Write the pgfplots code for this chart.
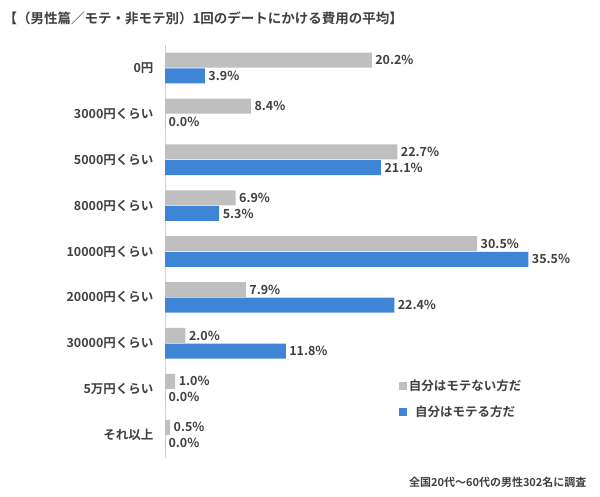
\documentclass[border=0pt]{standalone}
\usepackage{pgfplots}
\pgfplotsset{compat=1.18}
\usepackage{fontspec}
\setmainfont{Noto Sans CJK JP}[BoldFont={Noto Sans CJK JP Bold}]
\definecolor{gbar}{HTML}{BFBFBF}
\definecolor{bbar}{HTML}{3E85D5}
\definecolor{txt}{HTML}{404040}
\begin{document}
\begin{tikzpicture}[x=1pt,y=1pt]
\useasboundingbox (0,0) rectangle (600,496);
\node[anchor=west,font=\bfseries\fontsize{13.5}{15}\selectfont,text=txt] at (0,478) {【（男性篇／モテ・非モテ別）1回のデートにかける費用の平均】};
\begin{axis}[at={(165pt,38pt)},anchor=south west,scale only axis,width=435pt,height=413pt,
 xmin=0,xmax=42.5,ymin=-0.5,ymax=8.5,y dir=reverse,
 axis x line=none, axis y line*=left, y axis line style={gbar!70},
 ytick={0,...,8},yticklabels={0円,3000円くらい,5000円くらい,8000円くらい,10000円くらい,20000円くらい,30000円くらい,5万円くらい,それ以上},
 yticklabel style={font=\bfseries\fontsize{12.5}{14}\selectfont,text=txt,xshift=-8pt},major tick length=0pt,
 xbar,bar width=15pt,bar shift=0pt,
 nodes near coords,nodes near coords style={font=\bfseries\fontsize{12.5}{14}\selectfont,text=txt,anchor=west},
 point meta=explicit symbolic,
 legend style={at={(0.53,0.2)},anchor=north west,draw=none,font=\bfseries\fontsize{12.5}{14}\selectfont,text=txt,row sep=10pt},
 legend image code/.code={\fill[#1] (0pt,-4pt) rectangle (8pt,4pt);}]
\addplot[fill=gbar,draw=none] coordinates {(20.2,-0.17)[20.2\%] (8.4,0.83)[8.4\%] (22.7,1.83)[22.7\%] (6.9,2.83)[6.9\%] (30.5,3.83)[30.5\%] (7.9,4.83)[7.9\%] (2.0,5.83)[2.0\%] (1.0,6.83)[1.0\%] (0.5,7.83)[0.5\%]};
\addplot[fill=bbar,draw=none] coordinates {(3.9,0.17)[3.9\%] (0,1.17)[0.0\%] (21.1,2.17)[21.1\%] (5.3,3.17)[5.3\%] (35.5,4.17)[35.5\%] (22.4,5.17)[22.4\%] (11.8,6.17)[11.8\%] (0,7.17)[0.0\%] (0,8.17)[0.0\%]};
\legend{自分はモテない方だ,自分はモテる方だ}
\end{axis}
\node[anchor=east,font=\bfseries\fontsize{11}{12}\selectfont,text=txt] at (590,14) {全国20代〜60代の男性302名に調査};
\end{tikzpicture}
\end{document}
